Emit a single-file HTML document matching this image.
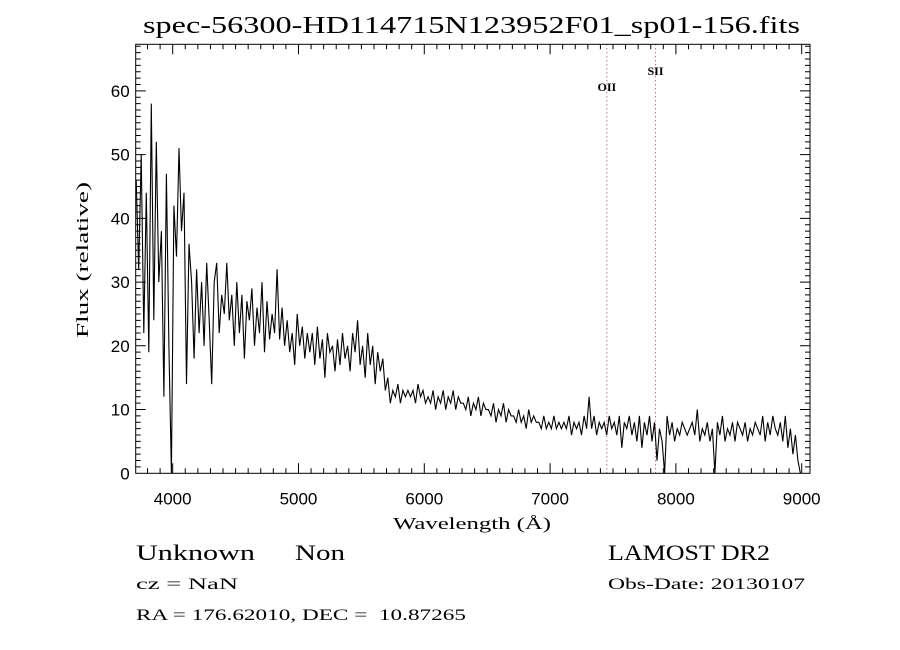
<!DOCTYPE html>
<html><head><meta charset="utf-8"><style>
html,body{margin:0;padding:0;background:#fff;}
svg{display:block;}
.serif{font-family:"Liberation Serif",serif;fill:#000;white-space:pre;}
.sans{font-family:"Liberation Sans",sans-serif;fill:#000;}
</style></head><body>
<svg id="chart" width="900" height="650" viewBox="0 0 900 650" xmlns="http://www.w3.org/2000/svg">
<rect width="900" height="650" fill="#fff"/>
<text class="serif" x="143" y="33" font-size="24" textLength="657" lengthAdjust="spacingAndGlyphs">spec-56300-HD114715N123952F01_sp01-156.fits</text>
<text class="serif" x="393" y="529" font-size="17" textLength="158" lengthAdjust="spacingAndGlyphs">Wavelength (Å)</text>
<text class="serif" x="182" y="88" font-size="17" textLength="156" lengthAdjust="spacingAndGlyphs" transform="rotate(-90 88 259) translate(-13 171)"></text>
<text class="serif" x="0" y="0" font-size="17" textLength="156" lengthAdjust="spacingAndGlyphs" text-anchor="middle" transform="translate(88 260) rotate(-90)">Flux (relative)</text>
<text class="serif" x="136" y="560" font-size="22" textLength="119" lengthAdjust="spacingAndGlyphs">Unknown</text>
<text class="serif" x="295" y="560" font-size="22" textLength="50" lengthAdjust="spacingAndGlyphs">Non</text>
<text class="serif" x="608" y="560" font-size="22" textLength="162" lengthAdjust="spacingAndGlyphs">LAMOST DR2</text>
<text class="serif" x="136" y="589" font-size="16" textLength="102" lengthAdjust="spacingAndGlyphs">cz = NaN</text>
<text class="serif" x="608" y="589" font-size="16" textLength="197" lengthAdjust="spacingAndGlyphs">Obs-Date: 20130107</text>
<text class="serif" x="136" y="620" font-size="16" textLength="330" lengthAdjust="spacingAndGlyphs" xml:space="preserve">RA = 176.62010, DEC =  10.87265</text>
<g id="ticks"></g>
<g id="marks"></g>
<rect x="135.7" y="44.3" width="674.3" height="429" fill="none" stroke="#000" stroke-width="1"/>
</svg>
<script>
const startWave = 3710;
const waveStep = 20;
const flux = [
46,32,50,22,44,19,58,24,52,30,
38,12,47,20,0,42,34,51,38,44,
14,36,30,18,32,22,30,20,33,24,
14,30,33,22,28,25,33,24,28,20,
30,22,28,18,27,24,29,20,26,22,
30,19,27,21,25,22,32,21,26,20,
24,19,22,17,25,20,23,18,22,19,
22,17,23,18,21,15,22,19,20,16,
21,17,22,18,20,16,22,19,24,17,
20,15,22,17,20,14,19,16,18,13,
15,11,13,12,14,11,13,12,13,12,
13,11,14,12,13,11,12,11,13,10,
12,11,13,10,12,11,13,10,12,11,
11,10,12,9,11,10,12,9,11,10,
10,9,11,8,10,9,11,8,10,9,
9,8,10,8,9,7,10,8,9,8,
8,7,9,7,8,7,9,7,8,7,
8,7,9,6,8,7,8,6,9,7,
12,7,9,6,8,7,8,6,9,7,
8,6,9,4,8,7,9,6,8,5,
9,4,8,6,9,5,8,2,7,5,
0,9,6,8,5,7,6,8,7,6,
7,8,6,10,5,7,6,8,5,7,
0,8,6,9,5,7,6,8,5,8,
7,6,8,5,7,6,8,7,6,9,
5,8,6,9,7,6,8,5,9,4,
7,3,6,2,0
];
const xTickLabels = [4000,5000,6000,7000,8000,9000];
const yTickLabels = [0,10,20,30,40,50,60];
const lineNames = ["OII","SII"];
const lineWaves = [7451,7838];
const lineLabelY = [60,62.5];

const X0=135.7, X1=810, Y0=473.3, Y1=44.3;
const xMin=3706, xMax=9066, yMin=0, yMax=67.3;
function xs(w){return X0+(w-xMin)/(xMax-xMin)*(X1-X0);}
function ys(v){return Y0-(v-yMin)/(yMax-yMin)*(Y0-Y1);}
const NS="http://www.w3.org/2000/svg";
const ticks=document.getElementById('ticks');
const marks=document.getElementById('marks');
function mk(tag,attrs,parent){const e=document.createElementNS(NS,tag);for(const k in attrs)e.setAttribute(k,attrs[k]);parent.appendChild(e);return e;}

let d="";
for(let w=3800;w<=9000;w+=100){
  const x=xs(w);const L=(w%1000===0)?10:5;
  d+=`M${x},${Y0}v${-L}M${x},${Y1}v${L}`;
}
for(let v=1;v<=67;v+=1){
  const y=ys(v);const L=(v%10===0)?10:5;
  d+=`M${X0},${y}h${L}M${X1},${y}h${-L}`;
}
const tp=mk('path',{d:d,stroke:'#000','stroke-width':1,fill:'none'},ticks);



xTickLabels.forEach(w=>{
  const t=mk('text',{x:xs(w),y:Y0+31,'font-size':17,'text-anchor':'middle',class:'sans'},ticks);
  t.textContent=w;
  
  
});
yTickLabels.forEach(v=>{
  const t=mk('text',{x:X0-6,y:ys(v)+6,'font-size':17,'text-anchor':'end',class:'sans'},ticks);
  t.textContent=v;
  
  
});

lineWaves.forEach((w,i)=>{
  const l=mk('line',{x1:xs(w),x2:xs(w),y1:Y1,y2:Y0,stroke:'#a04040','stroke-width':1,'stroke-dasharray':'1,3'},marks);
  
  
  const t=mk('text',{x:xs(w),y:ys(lineLabelY[i]),'font-size':12,'text-anchor':'middle',class:'serif','font-weight':'bold'},marks);
  t.textContent=lineNames[i];
  
  
});

let p="";
flux.forEach((v,i)=>{const w=startWave+i*waveStep;p+=(i?"L":"M")+xs(w).toFixed(1)+","+ys(v).toFixed(1);});
const sp=mk('path',{d:p,stroke:'#000','stroke-width':1.1,fill:'none','stroke-linejoin':'miter'},marks);


</script>
</body></html>
